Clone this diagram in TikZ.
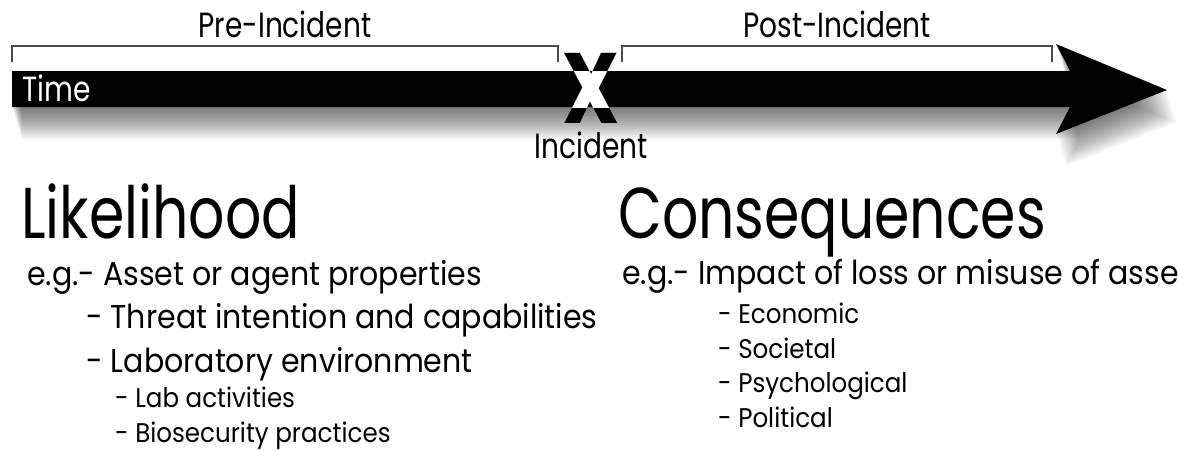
\documentclass[tikz,border=0pt]{standalone}
\usepackage{fontspec}
\setmainfont{Poppins}
\usetikzlibrary{positioning}

\tikzset{
  heading/.style={font=\fontsize{72}{72}\selectfont, anchor=base west, inner sep=0pt, xscale=0.79},
  item/.style={font=\fontsize{33}{33}\selectfont, anchor=base west, inner sep=0pt, xscale=0.91},
  subitem/.style={font=\fontsize{27}{27}\selectfont, anchor=base west, inner sep=0pt, xscale=0.91},
  phase/.style={font=\fontsize{35}{35}\selectfont, anchor=base, inner sep=0pt, xscale=0.8},
  xmark/.style={font=\fontsize{100}{100}\selectfont\bfseries, inner sep=0pt, xscale=0.8},
  bracket/.style={draw=black!70, line width=1.3pt},
}
\newcommand\timearrow{(12,71) -- (1070,71) -- (1056,44) -- (1167,90) -- (1056,134) -- (1070,107) -- (12,107) -- cycle}

\begin{document}
\begin{tikzpicture}[x=1pt,y=-1pt]
  \useasboundingbox (0,0) rectangle (1178,450);
  \clip (0,0) rectangle (1178,450);
  % soft shadow under the time arrow
  \foreach \d in {1,...,16}
    \fill[black, fill opacity=0.045, shift={(0.6*\d,2*\d)}] \timearrow;
  \fill[black] \timearrow;
  \node[phase, anchor=base west, text=white] (time) at (22,101) {Time};
  % incident mark
  \node[xmark] (x) at (591,88) {X};
  \begin{scope}
    \clip (12,71) rectangle (1070,107);
    \node[xmark, text=white] at (591,88) {X};
  \end{scope}
  \node[phase] (incident) at (591,158) {Incident};
  % phases
  \draw[bracket] (12,62) -- (12,46) -- (558,46) -- (558,62);
  \draw[bracket] (622,62) -- (622,46) -- (1052,46) -- (1052,62);
  \node[phase] (pre) at (285,37) {Pre-Incident};
  \node[phase] (post) at (837,37) {Post-Incident};
  % likelihood
  \node[heading] (lik) at (21,238) {Likelihood};
  \node[item] (l1) at (27,285) {e.g.- Asset or agent properties};
  \node[item] (l2) at (86,328) {- Threat intention and capabilities};
  \node[item] (l3) at (86,372) {- Laboratory environment};
  \node[subitem] (l4) at (115,407) {- Lab activities};
  \node[subitem] (l5) at (115,442) {- Biosecurity practices};
  % consequences
  \node[heading] (con) at (618,238) {Consequences};
  \node[item] (c1) at (622,284) {e.g.- Impact of loss or misuse of assets};
  \node[subitem] (c2) at (718,323) {- Economic};
  \node[subitem] (c3) at (718,358) {- Societal};
  \node[subitem] (c4) at (718,392) {- Psychological};
  \node[subitem] (c5) at (718,427) {- Political};
\end{tikzpicture}
\end{document}
